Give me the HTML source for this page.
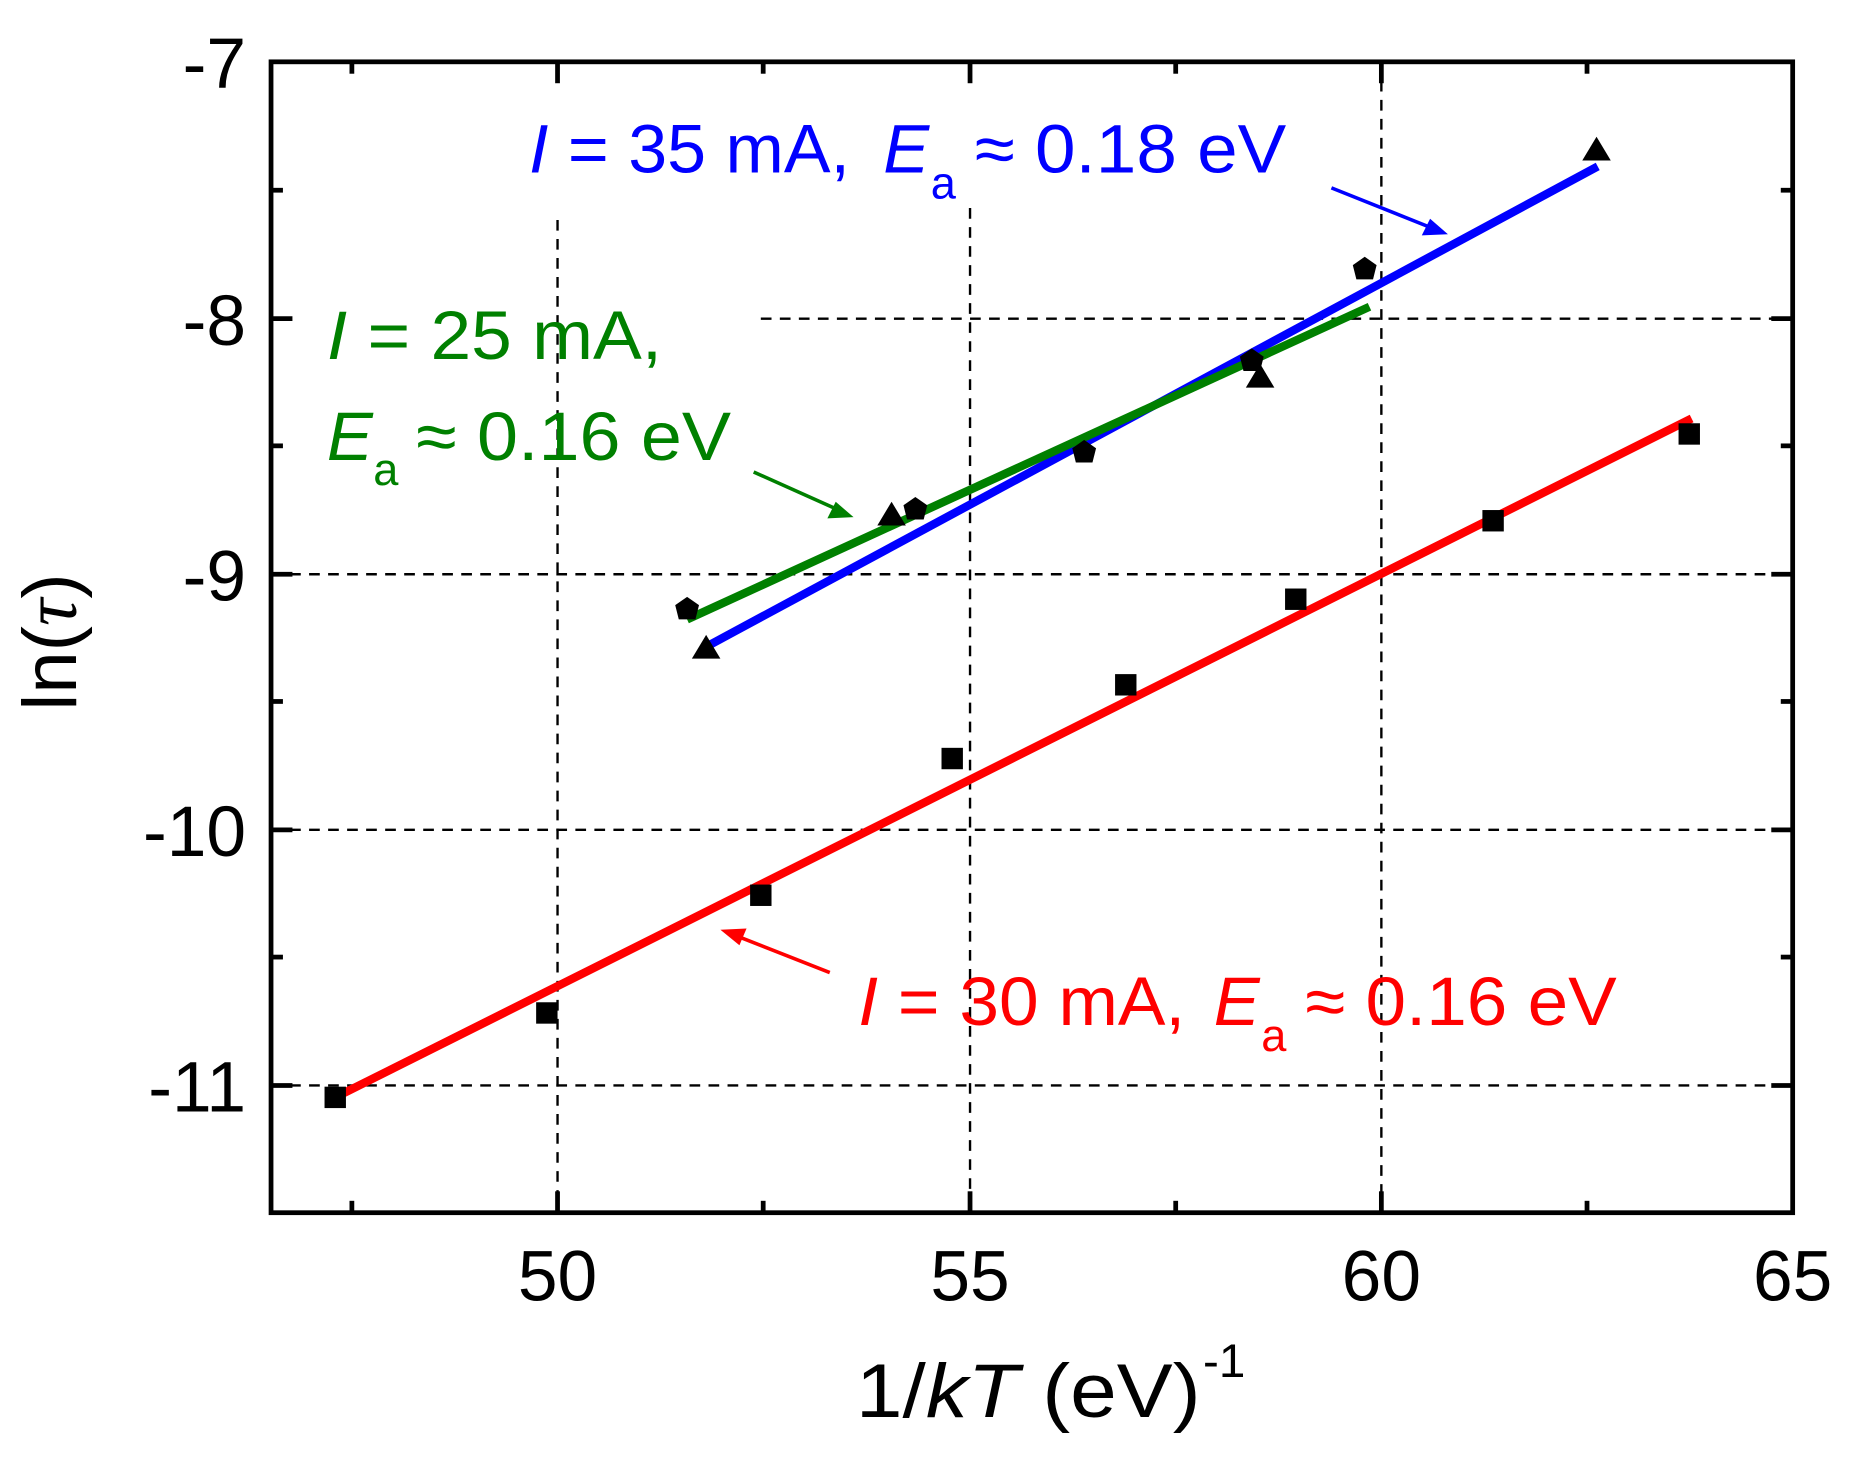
<!DOCTYPE html>
<html><head><meta charset="utf-8"><style>
html,body{margin:0;padding:0;background:#fff;}
svg{display:block;}
text{font-family:"Liberation Sans",Arial,sans-serif;}
</style></head><body>
<svg width="1864" height="1460" viewBox="0 0 1568 1228" preserveAspectRatio="none" xmlns="http://www.w3.org/2000/svg">
<g stroke="#000" stroke-width="2" stroke-dasharray="9,7" fill="none">
<line x1="469" y1="185" x2="469" y2="1020"/>
<line x1="816" y1="175" x2="816" y2="1020"/>
<line x1="1162" y1="52" x2="1162" y2="1020"/>
<line x1="640" y1="268" x2="1508" y2="268"/>
<line x1="228" y1="483" x2="1508" y2="483"/>
<line x1="228" y1="698" x2="1508" y2="698"/>
<line x1="228" y1="913" x2="1508" y2="913"/>
</g>
<g stroke="#000" stroke-width="4">
<line x1="469" y1="1020" x2="469" y2="1002"/><line x1="816" y1="1020" x2="816" y2="1002"/><line x1="1162" y1="1020" x2="1162" y2="1002"/>
<line x1="296" y1="1020" x2="296" y2="1010"/><line x1="642" y1="1020" x2="642" y2="1010"/><line x1="989" y1="1020" x2="989" y2="1010"/><line x1="1335" y1="1020" x2="1335" y2="1010"/>
<line x1="469" y1="52" x2="469" y2="70"/><line x1="816" y1="52" x2="816" y2="70"/><line x1="1162" y1="52" x2="1162" y2="70"/>
<line x1="296" y1="52" x2="296" y2="62"/><line x1="642" y1="52" x2="642" y2="62"/><line x1="989" y1="52" x2="989" y2="62"/><line x1="1335" y1="52" x2="1335" y2="62"/>
<line x1="228" y1="268" x2="246" y2="268"/><line x1="228" y1="483" x2="246" y2="483"/><line x1="228" y1="698" x2="246" y2="698"/><line x1="228" y1="913" x2="246" y2="913"/>
<line x1="228" y1="160" x2="238" y2="160"/><line x1="228" y1="375" x2="238" y2="375"/><line x1="228" y1="590" x2="238" y2="590"/><line x1="228" y1="805" x2="238" y2="805"/>
<line x1="1508" y1="268" x2="1490" y2="268"/><line x1="1508" y1="483" x2="1490" y2="483"/><line x1="1508" y1="698" x2="1490" y2="698"/><line x1="1508" y1="913" x2="1490" y2="913"/>
<line x1="1508" y1="160" x2="1498" y2="160"/><line x1="1508" y1="375" x2="1498" y2="375"/><line x1="1508" y1="590" x2="1498" y2="590"/><line x1="1508" y1="805" x2="1498" y2="805"/>
</g>
<rect x="228" y="52" width="1280" height="968" fill="none" stroke="#000" stroke-width="4"/>
<line x1="282" y1="923" x2="1423" y2="352" stroke="#ff0000" stroke-width="7"/>
<line x1="594" y1="544" x2="1344" y2="140" stroke="#0000ff" stroke-width="7"/>
<line x1="578" y1="521" x2="1152" y2="258" stroke="#008000" stroke-width="7"/>
<g fill="#000">
<rect x="273" y="914" width="18" height="18"/><rect x="451" y="843" width="18" height="18"/><rect x="631" y="744" width="18" height="18"/><rect x="792" y="629" width="18" height="18"/><rect x="938" y="567" width="18" height="18"/><rect x="1081" y="495" width="18" height="18"/><rect x="1247" y="429" width="18" height="18"/><rect x="1412" y="356" width="18" height="18"/>
<path d="M594,534 L606,554 L582,554 z"/><path d="M750,422 L762,442 L738,442 z"/><path d="M1060,306 L1072,326 L1048,326 z"/><path d="M1343,115 L1355,135 L1331,135 z"/>
<path d="M578,502 L588,509 L585,521 L571,521 L568,509 z"/><path d="M770,418 L780,425 L777,437 L763,437 L760,425 z"/><path d="M912,370 L922,377 L919,389 L905,389 L902,377 z"/><path d="M1053,293 L1063,300 L1060,312 L1046,312 L1043,300 z"/><path d="M1148,216 L1158,223 L1155,235 L1141,235 L1138,223 z"/>
</g>
<line x1="1120" y1="158" x2="1210" y2="194" stroke="#0000ff" stroke-width="3"/><path d="M1218,197 L1196,198 L1203,184 z" fill="#0000ff"/>
<line x1="634" y1="397" x2="710" y2="431" stroke="#008000" stroke-width="3"/><path d="M718,435 L696,436 L703,422 z" fill="#008000"/>
<line x1="698" y1="818" x2="614" y2="785" stroke="#ff0000" stroke-width="3"/><path d="M606,782 L628,781 L622,795 z" fill="#ff0000"/>
<g font-size="58">
<text x="445" y="145" fill="#0000ff" textLength="270" lengthAdjust="spacingAndGlyphs"><tspan font-style="italic">I</tspan> = 35 mA,</text>
<text x="743" y="145" fill="#0000ff" font-style="italic">E</text>
<text x="783" y="167" fill="#0000ff" font-size="38">a</text>
<text x="820" y="145" fill="#0000ff" textLength="262" lengthAdjust="spacingAndGlyphs">≈ 0.18 eV</text>
<text x="275" y="302" fill="#008000" textLength="282" lengthAdjust="spacingAndGlyphs"><tspan font-style="italic">I</tspan> = 25 mA,</text>
<text x="275" y="387" fill="#008000" font-style="italic">E</text>
<text x="314" y="408" fill="#008000" font-size="38">a</text>
<text x="350" y="387" fill="#008000" textLength="265" lengthAdjust="spacingAndGlyphs">≈ 0.16 eV</text>
<text x="722" y="862" fill="#ff0000" textLength="275" lengthAdjust="spacingAndGlyphs"><tspan font-style="italic">I</tspan> = 30 mA,</text>
<text x="1021" y="862" fill="#ff0000" font-style="italic">E</text>
<text x="1061" y="884" fill="#ff0000" font-size="38">a</text>
<text x="1098" y="862" fill="#ff0000" textLength="262" lengthAdjust="spacingAndGlyphs">≈ 0.16 eV</text>
</g>
<g font-size="60" fill="#000" text-anchor="end">
<text x="207" y="74">-7</text><text x="207" y="290">-8</text><text x="207" y="505">-9</text><text x="207" y="720">-10</text><text x="207" y="935">-11</text>
</g>
<g font-size="60" fill="#000" text-anchor="middle">
<text x="469" y="1094">50</text><text x="816" y="1094">55</text><text x="1162" y="1094">60</text><text x="1508" y="1094">65</text>
</g>
<text x="720" y="1192" font-size="64" fill="#000" textLength="290" lengthAdjust="spacingAndGlyphs">1/<tspan font-style="italic">kT</tspan> (eV)</text>
<text x="1012" y="1158" font-size="40" fill="#000">-1</text>
<text transform="translate(64,540) rotate(-90)" font-size="64" text-anchor="middle" fill="#000">ln(<tspan font-family="Liberation Serif,serif" font-style="italic">τ</tspan>)</text>
</svg>
</body></html>
